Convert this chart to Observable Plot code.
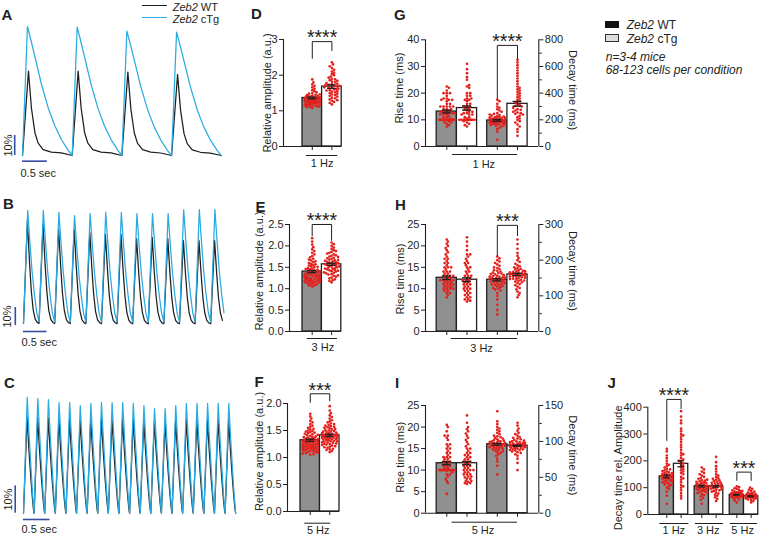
<!DOCTYPE html>
<html><head><meta charset="utf-8">
<script src="https://cdn.jsdelivr.net/npm/d3@7"></script>
<script src="https://cdn.jsdelivr.net/npm/@observablehq/plot@0.6"></script>
<style>
html,body{margin:0;padding:0;background:#fff;}
#fig{position:relative;width:764px;height:538px;overflow:hidden;background:#fff;font-family:"Liberation Sans",Arial,Helvetica,sans-serif;color:#231f20;}
.lbl{position:absolute;font-size:15px;font-weight:bold;line-height:15px;white-space:nowrap;}
.t12{position:absolute;font-size:12px;line-height:12px;white-space:nowrap;}
.t11{position:absolute;font-size:11px;line-height:12.3px;white-space:nowrap;}
</style></head><body><div id="fig"></div>
<script>
// ---------------- DATA ----------------
// Traces (A: 1 Hz, B: 3 Hz, C: 5 Hz); peak amplitudes in % dF/F, shapes = [fraction of period, fraction of peak]
const A_PERIOD = 1.0;
const A_WT_PEAKS = [42.2, 42.2, 41.7, 40.5];
const A_CTG_PEAKS = [64.5, 64.2, 62.2, 61.7];
const A_WT_SHAPE = [[0,0],[0.12,1],[0.18,0.56],[0.25,0.27],[0.315,0.146],[0.415,0.07],[0.58,0.04],[0.78,0.03],[1,0]];
const A_CTG_SHAPE = [[0,0],[0.10,1],[0.18,0.878],[0.28,0.716],[0.38,0.554],[0.52,0.365],[0.65,0.23],[0.785,0.122],[0.92,0.04],[1,0]];

const B_PERIOD = 1/3;
const B_WT_PEAKS = [58.3,56.1,53.9,53.3,51.7,50.6,50.6,48.3,48.9,48.3,47.2,47.2,47.2];
const B_CTG_PEAKS = [63.9,63.9,62.8,61.1,62.2,62.8,62.8,62.2,62.2,62.2,64.4,64.4,64.4];
const B_WT_SHAPE = [[0,0.02],[0.25,1],[0.38,0.62],[0.5,0.33],[0.62,0.15],[0.75,0.06],[0.88,0.03],[1,0.02]];
const B_CTG_SHAPE = [[0,0.02],[0.27,1],[0.4,0.74],[0.55,0.47],[0.7,0.27],[0.85,0.11],[1,0.03]];

const C_PERIOD = 0.2;
const C_WT_PEAKS = [35.2,35,34.8,34.5,34.5,34,34.2,34.5,34.5,34.5,34.2,34,33.5,33.5,34,34.2,34.2,34.2,34.2,34.2];
const C_CTG_PEAKS = [42.4,42.0,41.6,40.5,40.5,39.4,40.2,40.5,40.5,40.5,40.2,39.4,38.3,38.3,39.4,40.2,40.2,40.2,40.2,40.2];
const C_WT_SHAPE = [[0,0],[0.34,1],[0.5,0.68],[0.7,0.35],[0.85,0.14],[0.95,0.03],[1,0]];
const C_CTG_SHAPE = [[0,0],[0.35,1],[0.5,0.72],[0.7,0.4],[0.85,0.17],[1,0]];

// D-F: relative amplitude (a.u.)
const D_WT = [1.08,1.10,1.11,1.12,1.13,1.14,1.15,1.15,1.16,1.17,1.18,1.18,1.19,1.20,1.20,1.21,1.22,1.22,1.23,1.24,1.24,1.25,1.25,1.26,1.27,1.27,1.28,1.28,1.29,1.30,1.30,1.31,1.31,1.32,1.33,1.33,1.34,1.35,1.35,1.36,1.37,1.38,1.38,1.39,1.40,1.41,1.42,1.43,1.44,1.45,1.46,1.48,1.50,1.52,1.55,1.58,1.62,1.66,1.70,1.74,1.80,1.88];
const D_CTG = [1.18,1.22,1.25,1.28,1.30,1.32,1.35,1.37,1.40,1.42,1.44,1.46,1.48,1.50,1.52,1.54,1.55,1.57,1.58,1.60,1.61,1.62,1.64,1.65,1.66,1.68,1.69,1.70,1.72,1.73,1.75,1.76,1.78,1.80,1.82,1.84,1.86,1.88,1.90,1.93,1.96,2.00,2.03,2.07,2.10,2.15,2.20,2.25,2.30,2.36];
const E_WT = [1.05,1.07,1.08,1.10,1.10,1.12,1.13,1.14,1.15,1.15,1.16,1.17,1.18,1.18,1.19,1.20,1.20,1.21,1.22,1.22,1.23,1.24,1.25,1.25,1.26,1.27,1.28,1.28,1.29,1.30,1.30,1.31,1.32,1.33,1.33,1.34,1.35,1.36,1.37,1.38,1.39,1.40,1.41,1.42,1.43,1.44,1.45,1.46,1.47,1.48,1.50,1.51,1.52,1.54,1.55,1.57,1.58,1.60,1.62,1.64,1.66,1.68,1.70,1.73,1.76,1.80,1.84,1.88,1.92,1.97,2.03,2.10,2.18];
const E_CTG = [1.15,1.18,1.20,1.22,1.24,1.26,1.28,1.30,1.31,1.33,1.34,1.36,1.37,1.38,1.40,1.41,1.42,1.43,1.44,1.45,1.46,1.47,1.48,1.49,1.50,1.51,1.52,1.53,1.54,1.55,1.56,1.57,1.58,1.59,1.60,1.61,1.62,1.63,1.64,1.65,1.66,1.67,1.68,1.70,1.71,1.72,1.74,1.75,1.77,1.78,1.80,1.82,1.84,1.86,1.88,1.90,1.93,1.96,2.00,2.04,2.08];
const F_WT = [1.05,1.06,1.07,1.08,1.09,1.10,1.10,1.11,1.12,1.12,1.13,1.14,1.14,1.15,1.15,1.16,1.16,1.17,1.17,1.18,1.18,1.19,1.19,1.20,1.20,1.21,1.21,1.22,1.22,1.23,1.23,1.24,1.24,1.25,1.25,1.26,1.26,1.27,1.27,1.28,1.28,1.29,1.29,1.30,1.30,1.31,1.31,1.32,1.32,1.33,1.33,1.34,1.34,1.35,1.35,1.36,1.37,1.38,1.38,1.39,1.40,1.41,1.42,1.43,1.44,1.45,1.46,1.47,1.48,1.49,1.50,1.52,1.53,1.55,1.57,1.59,1.62,1.65,1.68,1.72,1.76,1.81];
const F_CTG = [1.10,1.12,1.14,1.15,1.16,1.18,1.19,1.20,1.21,1.22,1.23,1.24,1.25,1.25,1.26,1.27,1.28,1.28,1.29,1.30,1.30,1.31,1.32,1.32,1.33,1.34,1.34,1.35,1.35,1.36,1.36,1.37,1.37,1.38,1.38,1.39,1.39,1.40,1.40,1.41,1.41,1.42,1.42,1.43,1.43,1.44,1.45,1.45,1.46,1.47,1.48,1.48,1.49,1.50,1.51,1.52,1.53,1.54,1.55,1.56,1.57,1.58,1.59,1.60,1.62,1.63,1.65,1.67,1.69,1.72,1.75,1.78,1.82,1.87,1.95];

// G-I: rise time (ms) and decay time (ms)
const G_RISE_WT = [7.5,8,8.5,9,9,9.5,10,10,10,10,10,10,10,10,10,10,10,10,10,10,10,10,10.5,11,11,11.5,12,12,12,12.5,12.5,12.5,12.5,13,13,13,13.5,14,14,14,15,15,15,15,15,16,16,17,17.5,17.5,17.5,18,18,19,20,20,20,21,22,22.5];
const G_RISE_CTG = [7.5,8,8.5,9,9.5,10,10,10,10,10,10,10,10,10,10,10,10,10.5,11,11,12,12,12,12.5,12.5,13,13,13.5,14,14,15,15,15,16,16,17,17.5,17.5,18,18,19,19,20,20,22,22.5,23,25,26,27.5,29,31];
const G_DECAY_WT = [50,110,130,140,150,155,160,162,165,168,170,172,175,176,178,180,180,182,184,185,186,188,190,190,192,194,195,196,198,200,200,202,204,205,206,208,210,212,214,215,218,220,222,225,228,232,236,240,245,250,260,270,280,290,300,320,340,350];
const G_DECAY_CTG = [80,110,130,150,165,180,190,200,210,220,230,240,245,250,255,260,270,275,280,290,300,305,310,320,330,340,350,360,370,380,390,400,410,420,430,440,450,470,490,510,530,550,570,590,610,630,650];
const H_RISE_WT = [8,8.5,9,9,9.5,9.5,10,10,10,10,10.5,10.5,10.5,11,11,11,11,11.5,11.5,11.5,12,12,12,12,12,12.5,12.5,12.5,13,13,13,13,13.5,13.5,14,14,14,14.5,15,15,15,15.5,16,16,16.5,17,17,17.5,18,18.5,19,19.5,20,20.5,21,21.5];
const H_RISE_CTG = [7,7.2,7.5,7.5,8,8,8.5,8.5,9,9,9.5,9.5,10,10,10,10.5,10.5,11,11,11,11.5,11.5,12,12,12,12.5,12.5,13,13,13,13.5,14,14,14.5,15,15,15.5,16,16,16.5,17,17.5,18,18,19,20,21,22];
const H_DECAY_WT = [48,60,75,90,100,108,115,118,120,122,124,126,128,130,131,132,134,135,136,138,139,140,141,142,143,144,145,146,147,148,149,150,151,152,153,154,155,156,158,160,161,162,164,165,168,170,172,175,178,180,184,188,192,196,200,205,210];
const H_DECAY_CTG = [96,102,108,112,118,122,126,130,133,136,138,140,142,143,145,146,147,148,150,151,152,153,154,155,156,157,158,159,160,161,162,163,164,165,166,167,168,169,170,172,174,176,178,180,183,186,190,195,200,206,212,220,232,245,258];
const I_RISE_WT = [4.5,7,7.5,8,8.5,9,9,9.5,10,10,10,10,10,10,10,10,10,10,10,10,10,10,10,10,10,10.5,10.5,11,11,11,11.5,11.5,12,12,12,12.5,12.5,13,13,13,13.5,14,14,14.5,15,15,15.5,16,16,17,17.5,18,18,19,20,20.5];
const I_RISE_CTG = [6.8,7,7,7.3,7.5,7.5,8,8,8.3,8.5,8.5,9,9,9,9.5,9.5,10,10,10,10,10.5,10.5,11,11,11,11.5,11.5,12,12,12,12.5,12.5,13,13,13.5,13.5,14,14,14.5,15,15,15.5,16,16.5,17,17.5,18,18.5,19,19.5,20,21,22.7];
const I_DECAY_WT = [54,66,72,76,80,82,84,85,86,87,88,89,90,90,91,92,92,93,93,94,94,95,95,96,96,97,97,98,98,99,99,100,100,101,101,102,103,104,105,106,107,108,110,112,114,116,118,120,124,128,142];
const I_DECAY_CTG = [60,70,76,80,82,84,85,86,87,88,88,89,89,90,90,91,91,92,92,92,93,93,93,94,94,94,95,95,95,96,96,96,97,97,98,98,99,99,100,100,101,102,103,104,105,106,108,110,112,115,118,122,126];

// J: decay time relative to amplitude
const J_1_WT = [40,70,85,95,100,105,110,112,115,118,120,122,124,126,128,130,132,134,135,136,138,140,141,142,144,145,146,148,150,152,154,155,157,160,162,165,168,170,175,180,185,190,200,210,220,235,245];
const J_1_CTG = [60,70,80,90,100,105,110,120,130,135,140,150,155,160,165,170,175,180,185,190,195,200,205,210,220,225,230,240,250,260,270,280,290,295,300,310,320,340,350,365,385];
const J_3_WT = [40,55,62,68,72,76,80,82,84,86,88,90,92,94,95,96,98,100,101,102,104,105,106,108,110,111,112,114,115,117,118,120,122,124,126,128,130,133,136,140,145,150,155,160,168,175];
const J_3_CTG = [50,58,64,70,74,78,82,85,88,90,92,94,96,98,100,101,102,104,105,106,108,110,112,114,116,118,120,122,125,128,130,133,136,140,145,150,160,170,180,195,215];
const J_5_WT = [45,52,56,60,62,64,65,66,67,68,69,70,70,71,72,72,73,73,74,74,75,75,76,76,77,78,79,80,81,82,83,84,85,86,88,90,92,95,98,102,105];
const J_5_CTG = [45,50,54,56,58,60,61,62,63,64,64,65,65,66,66,67,67,68,68,69,69,70,70,71,72,73,74,75,76,78,80,82,85,88,92,96,100];

// Bar means and SEMs
const D_MEANS = [1.36, 1.68], D_SEMS = [0.025, 0.05];
const E_MEANS = [1.40, 1.57], E_SEMS = [0.025, 0.025];
const F_MEANS = [1.32, 1.41], F_SEMS = [0.02, 0.02];
const G_MEANS = [13.1, 14.4, 195, 320], G_SEMS = [0.5, 0.8, 6, 18];
const H_MEANS = [12.55, 12.1, 145, 160], H_SEMS = [0.4, 0.45, 3, 3];
const I_MEANS = [11.6, 11.6, 96, 94], I_SEMS = [0.35, 0.35, 1.2, 0.8];
const J_MEANS = [142, 189, 105.6, 105, 73.4, 68], J_SEMS = [5, 11, 3, 3, 1.5, 1.5];

// ---------------- STYLE ----------------
const FONT = '"Liberation Sans", Arial, Helvetica, sans-serif';
const INK = "#231f20", GRAY = "#909090", RED = "#e4201c", BLUE = "#29abe2", TBLACK = "#1e1e1e", SB = "#3a4a9f";
const DOT_R = 1.35, CAP = 0.22, STAR_DY = -3.5, STAR_SIZE = 19.5;
const baseStyle = {background: "none", overflow: "visible", fontFamily: FONT, fontSize: "11px", color: INK, maxWidth: "none"};
const fig = document.getElementById("fig");
function place(node, left, top) { node.style.position = "absolute"; node.style.left = left + "px"; node.style.top = top + "px"; fig.appendChild(node); }
function html(tag, cls, left, top, inner, extra) {
  const el = document.createElement(tag); if (cls) el.className = cls; el.innerHTML = inner || "";
  el.style.position = "absolute"; el.style.left = left + "px"; el.style.top = top + "px";
  if (extra) Object.assign(el.style, extra); fig.appendChild(el); return el;
}

// ---------------- TRACES ----------------
function buildTrace(period, peaks, shape, endFrac) {
  const pts = [];
  peaks.forEach((p, k) => {
    const last = k === peaks.length - 1;
    for (const [f, v] of shape) {
      if (k > 0 && f === 0) continue;
      if (last && endFrac != null && f > endFrac) break;
      pts.push({t: (k + f) * period, v: v * p});
    }
  });
  return pts;
}
function tracePanel(c) {
  const wt = buildTrace(c.period, c.wtPeaks, c.wtShape, c.endFrac);
  const tg = buildTrace(c.period, c.tgPeaks, c.tgShape, c.endFrac);
  const svg = Plot.plot({
    width: c.width, height: c.height, marginLeft: 0, marginRight: 0, marginTop: c.mT, marginBottom: c.mB,
    x: {domain: c.xDomain, axis: null}, y: {domain: [0, c.yMax], axis: null},
    style: baseStyle,
    marks: [
      Plot.line(wt, {x: "t", y: "v", stroke: TBLACK, strokeWidth: 1.25}),
      Plot.line(tg, {x: "t", y: "v", stroke: BLUE, strokeWidth: 1.25}),
      Plot.ruleX([c.sbX], {y1: 0, y2: 10, stroke: SB, strokeWidth: 1.6}),
      Plot.ruleY([c.sbY], {x1: 0, x2: 0.5, stroke: SB, strokeWidth: 1.6}),
      Plot.text(["10%"], {x: c.sbX, y: 5, rotate: -90, textAnchor: "middle", dx: c.pctDx, fill: INK}),
      Plot.text(["0.5 sec"], {x: 0, y: c.sbY, textAnchor: "start", dx: -2, dy: c.secDy, fill: INK})
    ]
  });
  place(svg, c.left, c.top);
}

// ---------------- BAR + DOT PANELS ----------------
function swarm(vals, pos, fac, pxX, pxY, halfW, r, out) {
  const n = vals.length;
  const order = d3.range(n).sort((a, b) => ((a * 37) % n) - ((b * 37) % n) || a - b);
  const placed = [], minD = r * 1.7, step = r * 0.8, cands = [0];
  for (let k = 1; k * step <= halfW; k++) cands.push(k * step, -k * step);
  for (const i of order) {
    const py = vals[i] / fac * pxY;
    let best = 0, bestD = -1;
    for (const cx of cands) {
      let md = Infinity;
      for (const p of placed) {
        const dy = p[1] - py; if (Math.abs(dy) >= minD) continue;
        const d = Math.hypot(p[0] - cx, dy); if (d < md) md = d;
      }
      if (md >= minD) { best = cx; break; }
      if (md > bestD) { bestD = md; best = cx; }
    }
    placed.push([best, py]);
    out.push({x: pos + best / pxX, y: vals[i] / fac});
  }
}
function barPanel(c) {
  const iw = c.width - c.mL - c.mR, ih = c.height - c.mT - c.mB;
  const pxX = iw / (c.xDomain[1] - c.xDomain[0]), pxY = ih / c.yMax;
  const bars = c.pos.map((p, i) => ({pos: p, mean: c.means[i] / c.fac[i], sem: c.sems[i] / c.fac[i], white: i % 2 === 1}));
  const dots = [];
  c.vals.forEach((arr, i) => swarm(arr, c.pos[i], c.fac[i], pxX, pxY, c.halfW, DOT_R, dots));
  const sig = c.sig || [];
  const brackets = [];
  sig.forEach((s, k) => brackets.push({k, x: s.x1, y: s.yl}, {k, x: s.x1, y: s.y}, {k, x: s.x2, y: s.y}, {k, x: s.x2, y: s.yr}));
  const rectOpts = {x1: d => d.pos - 0.5, x2: d => d.pos + 0.5, y1: 0, y2: "mean", stroke: INK, strokeWidth: 1.3};
  const marks = [
    Plot.rect(bars.filter(d => !d.white), {...rectOpts, fill: GRAY}),
    Plot.rect(bars.filter(d => d.white), {...rectOpts, fill: "#fff"}),
    Plot.dot(dots, {x: "x", y: "y", r: DOT_R, fill: RED, stroke: "none"}),
    Plot.ruleX(bars, {x: "pos", y1: d => d.mean - d.sem, y2: d => d.mean + d.sem, stroke: INK, strokeWidth: 1.3}),
    Plot.ruleY(bars, {y: d => d.mean + d.sem, x1: d => d.pos - CAP, x2: d => d.pos + CAP, stroke: INK, strokeWidth: 1.3}),
    Plot.ruleY(bars, {y: d => d.mean - d.sem, x1: d => d.pos - CAP, x2: d => d.pos + CAP, stroke: INK, strokeWidth: 1.3}),
    Plot.ruleX([c.xDomain[0]], {y1: 0, y2: c.yMax, stroke: INK, strokeWidth: 1.1}),
    Plot.axisY({anchor: "left", ticks: c.yTicks, tickFormat: c.yFmt, tickSize: 4, tickPadding: 2, label: null}),
    Plot.ruleY([0], {x1: c.xDomain[0], x2: c.xEnd, stroke: INK, strokeWidth: 1.1}),
    Plot.axisX({anchor: "bottom", ticks: c.pos, tickSize: 4, tickFormat: () => "", label: null}),
    Plot.ruleY(c.groups, {x1: "x1", x2: "x2", y: 0, dy: c.gLineDy, stroke: INK, strokeWidth: 1}),
    Plot.text(c.groups, {x: "xm", y: 0, text: "label", dy: c.gTextDy, fill: INK}),
    Plot.line(brackets, {x: "x", y: "y", z: "k", stroke: INK, strokeWidth: 1}),
    Plot.text(sig, {x: d => (d.x1 + d.x2) / 2, y: "y", text: "s", fontSize: STAR_SIZE, dy: STAR_DY, fill: INK}),
    Plot.text([c.yLabel], {frameAnchor: "left", textAnchor: "middle", rotate: -90, dx: c.yLdx, dy: c.yLdy, fill: INK})
  ];
  if (c.right) {
    const R = c.right;
    marks.push(
      Plot.ruleX([c.xDomain[1]], {y1: 0, y2: c.yMax, stroke: INK, strokeWidth: 1.1}),
      Plot.axisY({anchor: "right", ticks: R.ticks.map(t => t / R.fac), tickFormat: d => String(Math.round(d * R.fac)), tickSize: 4, tickPadding: 2, label: null}),
      Plot.axisY({anchor: "right", ticks: R.minor.map(t => t / R.fac), tickFormat: () => "", tickSize: 2.5, label: null}),
      Plot.text([R.label], {frameAnchor: "right", textAnchor: "middle", rotate: 90, dx: R.dx, dy: R.dy, fill: INK})
    );
  }
  const svg = Plot.plot({
    width: c.width, height: c.height, marginLeft: c.mL, marginRight: c.mR, marginTop: c.mT, marginBottom: c.mB,
    x: {domain: c.xDomain, axis: null}, y: {domain: [0, c.yMax], axis: null},
    style: baseStyle, marks
  });
  place(svg, c.left, c.top);
}

// ---------------- BUILD ----------------
tracePanel({left: 0, top: 0, width: 230, height: 175, mT: 15, mB: 20, yMax: 70, xDomain: [-22/49.7, 208/49.7],
  period: A_PERIOD, wtPeaks: A_WT_PEAKS, tgPeaks: A_CTG_PEAKS, wtShape: A_WT_SHAPE, tgShape: A_CTG_SHAPE,
  sbX: -0.157, sbY: -2.83, pctDx: -6.7, secDy: 12});
tracePanel({left: 0, top: 175, width: 230, height: 175, mT: 24, mB: 25, yMax: 70, xDomain: [-23/46.8, 207/46.8],
  period: B_PERIOD, wtPeaks: B_WT_PEAKS, tgPeaks: B_CTG_PEAKS, wtShape: B_WT_SHAPE, tgShape: B_CTG_SHAPE, endFrac: 0.85,
  sbX: -0.175, sbY: -3.33, pctDx: -7.5, secDy: 11});
tracePanel({left: 0, top: 350, width: 230, height: 188, mT: 26.2, mB: 25.3, yMax: 50, xDomain: [-23/53.05, 207/53.05],
  period: C_PERIOD, wtPeaks: C_WT_PEAKS, tgPeaks: C_CTG_PEAKS, wtShape: C_WT_SHAPE, tgShape: C_CTG_SHAPE,
  sbX: -0.156, sbY: -2.3, pctDx: -6.9, secDy: 10});

const f1 = d3.format("d"), f2 = d3.format(".1f");
barPanel({left: 230, top: 0, width: 130, height: 175, mL: 53, mR: 18.8, mT: 39, mB: 29,
  xDomain: [-0.469, 2.5], xEnd: 2.5, yMax: 3, yTicks: [0,1,2,3], yFmt: f1,
  pos: [1, 2], fac: [1, 1], means: D_MEANS, sems: D_SEMS, vals: [D_WT, D_CTG], halfW: 8,
  groups: [{x1: 0.7, x2: 2.3, xm: 1.5, label: "1 Hz"}], gLineDy: 9, gTextDy: 17,
  sig: [{x1: 1, x2: 2, y: 2.94, yl: 2.47, yr: 2.69, s: "****"}],
  yLabel: "Relative amplitude (a.u.)", yLdx: -16.5, yLdy: 0});
barPanel({left: 230, top: 175, width: 130, height: 175, mL: 59, mR: 19.2, mT: 49, mB: 19,
  xDomain: [-0.17, 2.5], xEnd: 2.5, yMax: 2.5, yTicks: [0,0.5,1,1.5,2,2.5], yFmt: f2,
  pos: [1, 2], fac: [1, 1], means: E_MEANS, sems: E_SEMS, vals: [E_WT, E_CTG], halfW: 8,
  groups: [{x1: 0.75, x2: 2.3, xm: 1.55, label: "3 Hz"}], gLineDy: 7, gTextDy: 16,
  sig: [{x1: 1, x2: 2, y: 2.5, yl: 2.24, yr: 2.13, s: "****"}],
  yLabel: "Relative amplitude (a.u.)", yLdx: -30, yLdy: -7});
barPanel({left: 230, top: 350, width: 130, height: 188, mL: 57, mR: 21, mT: 53, mB: 27,
  xDomain: [-0.167, 2.5], xEnd: 2.5, yMax: 2, yTicks: [0,0.5,1,1.5,2], yFmt: f2,
  pos: [1, 2], fac: [1, 1], means: F_MEANS, sems: F_SEMS, vals: [F_WT, F_CTG], halfW: 8,
  groups: [{x1: 0.72, x2: 2.05, xm: 1.41, label: "5 Hz"}], gLineDy: 11.7, gTextDy: 19,
  sig: [{x1: 1, x2: 2, y: 2.18, yl: 2.02, yr: 2.05, s: "***"}],
  yLabel: "Relative amplitude (a.u.)", yLdx: -28.3, yLdy: -6});

const dual = {left: 360, width: 220, mL: 65, mR: 41.7, xDomain: [-0.054, 5.554], xEnd: 5.554, pos: [1, 2, 3.5, 4.5], halfW: 8.5, yLabel: "Rise time (ms)"};
barPanel({...dual, top: 0, height: 175, mT: 39.3, mB: 29, yMax: 40, yTicks: [0,10,20,30,40], yFmt: f1,
  fac: [1, 1, 20, 20], means: G_MEANS, sems: G_SEMS, vals: [G_RISE_WT, G_RISE_CTG, G_DECAY_WT, G_DECAY_CTG],
  groups: [{x1: 1.28, x2: 4.5, xm: 2.83, label: "1 Hz"}], gLineDy: 8, gTextDy: 18,
  sig: [{x1: 3.5, x2: 4.5, y: 37.9, yl: 17.9, yr: 32.9, s: "****"}], yLdx: -26, yLdy: -5,
  right: {fac: 20, ticks: [0,200,400,600,800], minor: [100,300,500,700], label: "Decay time (ms)", dx: 33.7, dy: -3}});
barPanel({...dual, top: 175, height: 175, mT: 49, mB: 19, yMax: 25, yTicks: [0,5,10,15,20,25], yFmt: f1,
  fac: [1, 1, 12, 12], means: H_MEANS, sems: H_SEMS, vals: [H_RISE_WT, H_RISE_CTG, H_DECAY_WT, H_DECAY_CTG],
  groups: [{x1: 1.22, x2: 4.5, xm: 2.72, label: "3 Hz"}], gLineDy: 7, gTextDy: 17,
  sig: [{x1: 3.5, x2: 4.5, y: 24.8, yl: 17.7, yr: 22.4, s: "***"}], yLdx: -25.5, yLdy: 1,
  right: {fac: 12, ticks: [0,100,200,300], minor: [50,150,250], label: "Decay time (ms)", dx: 33.7, dy: -7}});
barPanel({...dual, top: 350, height: 188, mT: 55, mB: 25.3, yMax: 25, yTicks: [0,5,10,15,20,25], yFmt: f1,
  fac: [1, 1, 6, 6], means: I_MEANS, sems: I_SEMS, vals: [I_RISE_WT, I_RISE_CTG, I_DECAY_WT, I_DECAY_CTG],
  groups: [{x1: 1.26, x2: 4.5, xm: 2.79, label: "5 Hz"}], gLineDy: 9, gTextDy: 17.3,
  yLdx: -25.5, yLdy: -2,
  right: {fac: 6, ticks: [0,50,100,150], minor: [25,75,125], label: "Decay time (ms)", dx: 33.7, dy: -4}});

barPanel({left: 560, top: 350, width: 204, height: 188, mL: 87.3, mR: 6.2, mT: 56.7, mB: 24,
  xDomain: [-0.329, 7.4], xEnd: 7.4, yMax: 400, yTicks: [0,100,200,300,400], yFmt: f1,
  pos: [1, 2, 3.45, 4.45, 5.9, 6.9], fac: [1,1,1,1,1,1], means: J_MEANS, sems: J_SEMS,
  vals: [J_1_WT, J_1_CTG, J_3_WT, J_3_CTG, J_5_WT, J_5_CTG], halfW: 6,
  groups: [{x1: 0.51, x2: 2.54, xm: 1.49, label: "1 Hz"}, {x1: 3.0, x2: 4.97, xm: 3.9, label: "3 Hz"}, {x1: 5.45, x2: 7.35, xm: 6.3, label: "5 Hz"}],
  gLineDy: 9, gTextDy: 16,
  sig: [{x1: 1, x2: 2, y: 429, yl: 276, yr: 395, s: "****"}, {x1: 5.9, x2: 6.9, y: 158, yl: 127, yr: 127, s: "***"}],
  yLabel: "Decay time rel. Amplitude", yLdx: -29.8, yLdy: 7});

// ---------------- LABELS & LEGENDS ----------------
[["A", 1.5, 6.6], ["B", 3, 195.6], ["C", 4, 375], ["D", 251, 5.6], ["E", 255.5, 199], ["F", 254.5, 374],
 ["G", 394, 6.6], ["H", 395, 196.6], ["I", 395, 375], ["J", 607.5, 375]].forEach(([t, x, y]) => html("div", "lbl", x, y, t));

html("div", null, 141.7, 5.2, "", {width: "25px", height: "0", borderTop: "1.3px solid " + TBLACK});
html("div", null, 141.7, 17.4, "", {width: "25px", height: "0", borderTop: "1.3px solid " + BLUE});
html("div", "t11", 172.7, 0.5, "<i>Zeb2</i> WT");
html("div", "t11", 172.7, 13, "<i>Zeb2</i> cTg");

html("div", null, 605, 20.7, "", {width: "14.3px", height: "7.7px", background: "#111"});
html("div", null, 605, 33.7, "", {width: "14.3px", height: "8.5px", background: "#dcdcdc", border: "1px solid #333", boxSizing: "border-box"});
html("div", "t12", 626.7, 18.8, "<i>Zeb2</i> WT");
html("div", "t12", 626.7, 32.5, "<i>Zeb2</i> cTg");
html("div", "t12", 605.7, 50.8, "<i>n=3-4 mice</i>");
html("div", "t12", 605.7, 64.3, "<i>68-123 cells per condition</i>");
</script></body></html>
